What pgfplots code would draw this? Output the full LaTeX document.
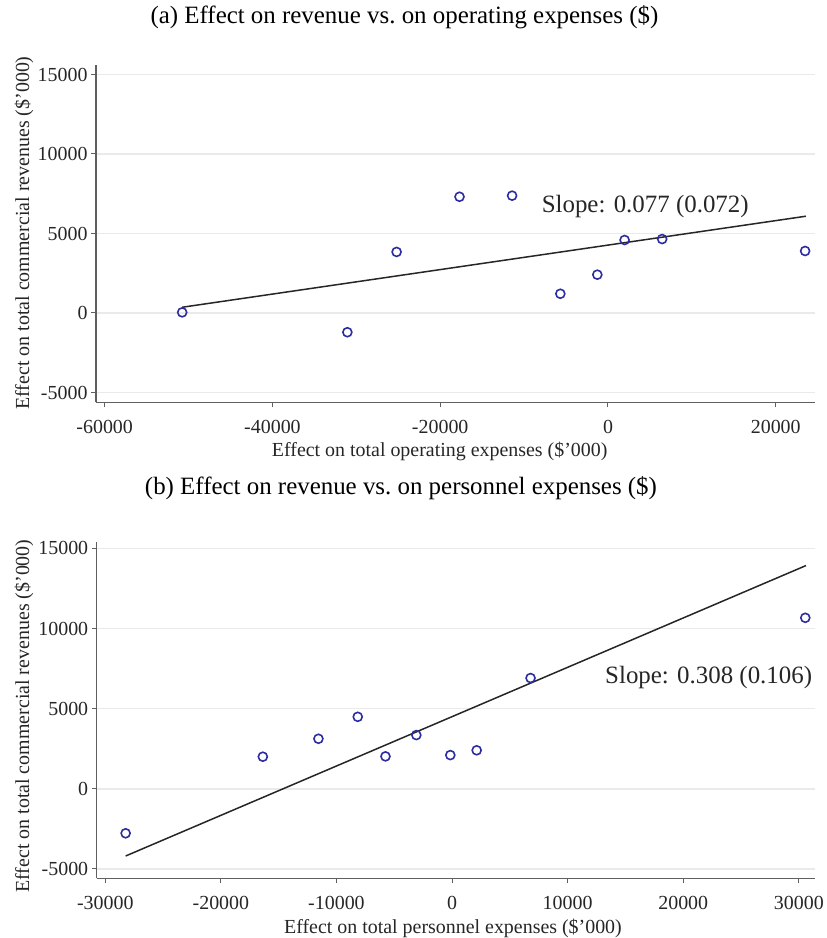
\documentclass[border=0pt]{standalone}
\usepackage{fontspec}
\setmainfont{Liberation Serif}
\usepackage{pgfplots}
\pgfplotsset{compat=1.18}
\definecolor{mk}{RGB}{45,45,160}
\definecolor{gridc}{RGB}{234,234,234}
\definecolor{axc}{RGB}{95,95,95}
\pgfplotsset{
  stata/.style={
    scale only axis,
    enlargelimits=false,
    axis x line=bottom, axis y line=left,
    axis line style={-, color=axc, line width=1.2bp},
    tick align=outside,
    major tick length=5bp,
    tick style={color=axc, line width=1bp},
    ymajorgrids, xmajorgrids=false,
    grid style={color=gridc, line width=1.5bp},
    ticklabel style={font=\fontsize{20}{24}\selectfont, text=black!85},
    xticklabel style={yshift=-9bp},
    label style={font=\fontsize{20}{24}\selectfont, text=black!85},
    title style={font=\fontsize{25}{30}\selectfont, anchor=center},
    /pgf/number format/1000 sep={},
    /pgf/number format/assume math mode=true,
    scaled ticks=false,
    ytick={-5000,0,5000,10000,15000},
    clip=false,
  }
}
\begin{document}
\begin{tikzpicture}
\useasboundingbox (0,0) rectangle (827bp,-938bp);
% ---------- panel (a) ----------
\begin{axis}[stata,
  at={(96bp,-402.3bp)}, anchor=south west,
  width=719bp, height=337.3bp,
  xmin=-61036, xmax=24679, ymin=-5617, ymax=15597,
  xtick={-60000,-40000,-20000,0,20000},
  title={(a) Effect on revenue vs.\ on operating expenses (\$)},
  title style={at={(axis description cs:0.429,1.1245)}},
  xlabel={Effect on total operating expenses (\$'000)},
  xlabel style={at={(axis description cs:0.478,-0.1445)}, anchor=center},
  ylabel={Effect on total commercial revenues (\$'000)},
  ylabel style={at={(axis description cs:-0.1001,0.502)}, anchor=center, rotate=0},
]
\addplot[black!85, line width=1.5bp] coordinates {(-50760,361) (23600,6087)};
\addplot[only marks, mark=o, mark size=4.5bp, color=mk, mark options={line width=1.6bp}] coordinates {
(-50760,40) (-31070,-1210) (-25200,3840) (-17700,7310) (-11430,7380)
(-5680,1210) (-1270,2410) (1980,4590) (6460,4650) (23500,3900)};
\node[font=\fontsize{25}{30}\selectfont, text=black!85] at (axis cs:4440,6667) {Slope: 0.077 (0.072)};
\end{axis}
% ---------- panel (b) ----------
\begin{axis}[stata,
  at={(96.7bp,-878.3bp)}, anchor=south west,
  width=718.3bp, height=336.6bp,
  xmin=-30743, xmax=31400, ymin=-5590, ymax=15420,
  xtick={-30000,-20000,-10000,0,10000,20000,30000},
  title={(b) Effect on revenue vs.\ on personnel expenses (\$)},
  title style={at={(axis description cs:0.4236,1.1416)}},
  xlabel={Effect on total personnel expenses (\$'000)},
  xlabel style={at={(axis description cs:0.496,-0.1477)}, anchor=center},
  ylabel={Effect on total commercial revenues (\$'000)},
  ylabel style={at={(axis description cs:-0.1012,0.482)}, anchor=center},
]
\addplot[black!85, line width=1.5bp] coordinates {(-28240,-4198) (30620,13931)};
\addplot[only marks, mark=o, mark size=4.5bp, color=mk, mark options={line width=1.6bp}] coordinates {
(-28240,-2780) (-16370,2000) (-11560,3120) (-8160,4490) (-5760,2020)
(-3090,3350) (-150,2100) (2130,2400) (6790,6910) (30560,10670)};
\node[font=\fontsize{25}{30}\selectfont, text=black!85] at (axis cs:22200,6970) {Slope: 0.308 (0.106)};
\end{axis}
\end{tikzpicture}
\end{document}
